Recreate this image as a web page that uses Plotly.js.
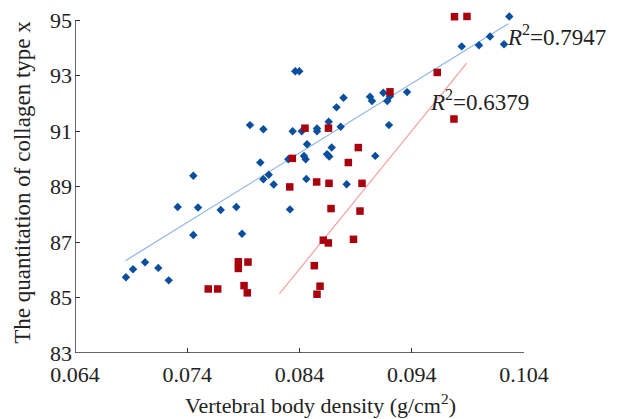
<!DOCTYPE html>
<html>
<head>
<meta charset="utf-8">
<script src="https://cdn.plot.ly/plotly-3.0.1.min.js"></script>
<style>html,body{margin:0;padding:0;background:#fff;}#chart{width:617px;height:419px;}</style>
</head>
<body>
<div id="chart"></div>
<script>
// Series 1 (blue diamonds)
const blueX = [0.06854,0.06917,0.07024,0.07142,0.07235,0.07315,0.07454,0.07496,0.07454,0.07698,
  0.07837,0.07888,0.07959,0.08078,0.08051,0.08078,0.08126,0.08170,0.08315,0.08300,
  0.08339,0.08362,0.08398,0.08420,0.08467,0.08440,0.08455,0.08461,0.08556,0.08556,
  0.08660,0.08687,0.08645,0.08665,0.08730,0.08767,0.08792,0.08820,0.09028,0.09046,
  0.09075,0.09147,0.09182,0.09197,0.09206,0.09358,0.09845,0.09999,0.10097,0.10222,0.10269];
const blueY = [85.73,86.02,86.27,86.07,85.62,88.27,89.39,88.25,87.26,88.16,
  88.27,87.30,91.22,91.07,89.87,89.27,89.43,89.08,88.18,89.99,
  91.00,93.16,93.16,91.00,90.53,90.11,89.99,89.28,91.10,91.00,
  91.34,90.41,90.17,90.09,91.86,91.16,92.21,89.09,92.24,92.09,
  90.11,92.39,92.09,91.22,92.26,92.41,94.06,94.10,94.42,94.14,95.14];
// Series 2 (red squares)
const redX = [0.07587,0.07671,0.07855,0.07855,0.07941,0.07906,0.07935,0.08313,0.08336,0.08449,
  0.08553,0.08532,0.08583,0.08556,0.08612,0.08657,0.08658,0.08663,0.08681,0.08835,
  0.08881,0.08924,0.08939,0.08957,0.09206,0.09627,0.09776,0.09781,0.09892];
const redY = [85.31,85.31,86.29,86.05,86.28,85.43,85.17,88.99,90.02,91.11,
  89.17,86.15,85.41,85.12,87.07,86.97,91.11,89.12,88.21,89.87,
  87.10,90.41,88.12,89.12,92.42,93.12,91.44,95.13,95.14];
// Trend lines (endpoints)
const blueFitX = [0.0685, 0.1026];
const blueFitY = [86.33, 94.88];
const redFitX = [0.0822, 0.0989];
const redFitY = [85.13, 93.46];
// Ticks and labels
const xMin = 0.064, xMax = 0.104, yMin = 83, yMax = 95, yPad = 0.3;
const xTickVals = [0.064,0.074,0.084,0.094,0.104];
const xTickText = ["0.064","0.074","0.084","0.094","0.104"];
const yTickVals = [83,85,87,89,91,93,95];
const r2Labels = ["<i>R</i><sup>2</sup>=0.7947","<i>R</i><sup>2</sup>=0.6379"];
const r2X = [0.10228, 0.09543];
const r2Y = [94.46, 92.12];

const FONT = "Liberation Serif, Times New Roman, serif";
const pxPerUnit = 27.75;
const topMargin = 20 - yPad * pxPerUnit;
const plotH = (yMax + yPad - yMin) * pxPerUnit;
const data = [
  {x: blueFitX, y: blueFitY, mode:'lines', line:{color:'#8db4ea', width:1.2}, hoverinfo:'skip'},
  {x: redFitX, y: redFitY, mode:'lines', line:{color:'#f2a0a0', width:1.2}, hoverinfo:'skip'},
  {x: blueX, y: blueY, mode:'markers', marker:{symbol:'diamond', size:6.5, color:'#0a4f9e'}, cliponaxis:false},
  {x: redX, y: redY, mode:'markers', marker:{symbol:'square', size:7.5, color:'#a8000c'}, cliponaxis:false}
];
const layout = {
  width:617, height:419,
  margin:{l:75, r:93, t:topMargin, b:419 - topMargin - plotH},
  paper_bgcolor:'#fff', plot_bgcolor:'#fff',
  showlegend:false,
  font:{family:FONT, size:22, color:'#222'},
  xaxis:{range:[xMin,xMax], tickvals:xTickVals, ticktext:xTickText,
    showgrid:false, zeroline:false, showline:false,
    ticks:'inside', ticklen:5, tickcolor:'#333', tickwidth:1.2, ticklabelstandoff:6,
    tickfont:{family:FONT, size:22, color:'#222'}},
  yaxis:{range:[yMin, yMax + yPad], tickvals:yTickVals,
    showgrid:false, zeroline:false, showline:false,
    ticks:'inside', ticklen:5, tickcolor:'#333', tickwidth:1.2, ticklabelstandoff:2,
    tickfont:{family:FONT, size:22, color:'#222'},
    title:{text:'The quantitation of collagen type x', font:{family:FONT, size:23, color:'#222'}, standoff:12}},
  shapes:[
    {type:'line', xref:'x', yref:'y', x0:xMin, x1:xMin, y0:yMin, y1:yMax, line:{color:'#333', width:1.5}},
    {type:'line', xref:'x', yref:'y', x0:xMin, x1:xMax, y0:yMin, y1:yMin, line:{color:'#333', width:1.5}}
  ],
  annotations: r2Labels.map((t,i)=>({x:r2X[i], y:r2Y[i], xref:'x', yref:'y', text:t, showarrow:false,
    xanchor:'left', yanchor:'middle', font:{family:FONT, size:23, color:'#222'}})).concat([
    {xref:'paper', yref:'paper', x:(320-75)/449, y:-(404-353)/plotH, xanchor:'center', yanchor:'middle',
     showarrow:false, text:'Vertebral body density (g/cm<sup>2</sup>)', font:{family:FONT, size:22, color:'#222'}}
  ])
};
Plotly.newPlot('chart', data, layout, {staticPlot:true, displayModeBar:false});
</script>
</body>
</html>
